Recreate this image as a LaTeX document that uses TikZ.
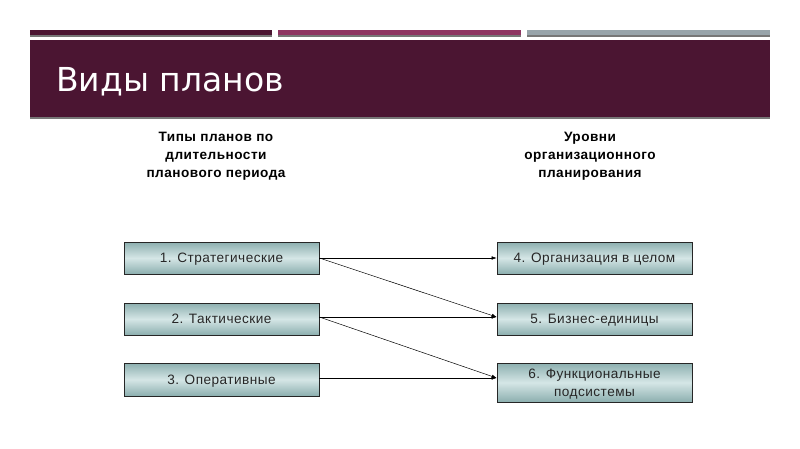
\documentclass[tikz,border=0pt]{standalone}
\usepackage{fontspec}
\setmainfont{Liberation Sans}
\newfontfamily\titlefont{DejaVu Sans}
\newfontfamily\spacedfont[LetterSpace=3.5]{Liberation Sans}
\usetikzlibrary{arrows.meta}
\definecolor{maroonband}{HTML}{4B1532}
\definecolor{roseband}{HTML}{8E3562}
\definecolor{steelband}{HTML}{98A4AA}
\definecolor{shadowgray}{HTML}{777777}
\definecolor{boxedge}{HTML}{8CAFAF}
\definecolor{boxmid}{HTML}{D5E6E6}
\begin{document}
\begin{tikzpicture}[x=1pt,y=-1pt,
  box/.style={draw=black!85, line width=0.6pt, top color=boxedge, bottom color=boxedge, middle color=boxmid,
    minimum width=195pt, minimum height=32pt, align=center, inner sep=2pt, text depth=0pt,
    font=\spacedfont\fontsize{13.6}{18}\selectfont, text=black!85},
  heading/.style={align=center, font=\spacedfont\fontsize{13.6}{18}\selectfont\bfseries, text=black},
  arr/.style={-{Latex[length=5pt,width=3.5pt]}, line width=0.5pt, black}]
\fill[white] (0,0) rectangle (800,449);
\useasboundingbox (0,0) rectangle (800,449);
% top bars
\fill[maroonband] (30,30) rectangle (272,35);
\fill[shadowgray] (30,35) rectangle (272,37);
\fill[roseband] (278,30) rectangle (521,35);
\fill[shadowgray] (278,35) rectangle (521,37);
\fill[steelband] (527,30) rectangle (770,35);
\fill[shadowgray] (527,35) rectangle (770,37);
% title band
\fill[maroonband] (30,40) rectangle (770,117);
\fill[shadowgray] (30,117) rectangle (770,119.5);
\node[anchor=base west, text=white, inner sep=0pt, font=\titlefont\fontsize{33}{40}\selectfont] (title) at (56,92) {Виды планов};
% headings
\node[heading] (hl) at (216,156) {Типы планов по\\длительности\\планового периода};
\node[heading] (hr) at (590,156) {Уровни\\организационного\\планирования};
% boxes
\node[box] (s1) at (221.5,258) {1. Стратегические};
\node[box] (s2) at (221.5,319) {2. Тактические};
\node[box, minimum height=33pt] (s3) at (221.5,379.5) {3. Оперативные};
\node[box] (o4) at (594.5,258) {4. Организация в целом};
\node[box] (o5) at (594.5,319) {5. Бизнес-единицы};
\node[box, minimum height=39pt] (o6) at (594.5,382.5) {6. Функциональные\\подсистемы};
% arrows
\draw[arr] (s1.east) -- (o4.west);
\draw[arr] (s1.east) -- ([yshift=2pt]o5.west);
\draw[arr] ([yshift=2pt]s2.east) -- ([yshift=2pt]o5.west);
\draw[arr] ([yshift=2pt]s2.east) -- ([yshift=4.5pt]o6.west);
\draw[arr] ([yshift=1.5pt]s3.east) -- ([yshift=4.5pt]o6.west);
\end{tikzpicture}
\end{document}
